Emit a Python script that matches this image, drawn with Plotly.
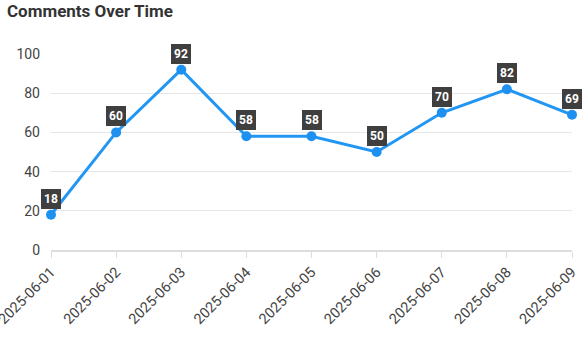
import plotly.graph_objects as go

dates = ["2025-06-01", "2025-06-02", "2025-06-03", "2025-06-04", "2025-06-05",
         "2025-06-06", "2025-06-07", "2025-06-08", "2025-06-09"]
comments = [18, 60, 92, 58, 58, 50, 70, 82, 69]
y_ticks = [0, 20, 40, 60, 80, 100]

fig = go.Figure()
fig.add_trace(go.Scatter(
    x=dates, y=comments, mode="lines+markers",
    line=dict(color="#2196F3", width=3),
    marker=dict(color="#1E90F0", size=10),
    cliponaxis=False, hoverinfo="skip",
))

# value badges above each point
for d, v in zip(dates, comments):
    fig.add_annotation(
        x=d, y=v, text=f"<b>{v}</b>", showarrow=False,
        yshift=16, font=dict(family="Roboto", size=12, color="white"),
        bgcolor="#3f3f3f", borderpad=2, bordercolor="#3f3f3f", borderwidth=1,
    )

fig.update_layout(
    width=582, height=350,
    margin=dict(l=51, r=10, t=54, b=100),
    plot_bgcolor="white", paper_bgcolor="white",
    showlegend=False,
    font=dict(family="Roboto", color="#444"),
    title=dict(text="<b>Comments Over Time</b>", x=0.012, xanchor="left",
               y=0.985, yanchor="top",
               font=dict(family="Roboto", size=17, color="#333")),
)
fig.update_xaxes(
    type="category", range=[0, len(dates) - 1], automargin=False,
    tickangle=-45, tickfont=dict(size=14.5, color="#444"),
    showgrid=False, showline=True, linecolor="#ddd", linewidth=2,
    ticks="outside", ticklen=6, tickcolor="#ddd",
)
fig.update_yaxes(
    range=[0, 100], tickvals=y_ticks, automargin=False,
    tickfont=dict(size=14, color="#444"),
    showgrid=True, gridcolor="#e6e6e6", gridwidth=1,
    zeroline=False, showline=False, ticks="", ticklabelstandoff=10,
)

fig.write_html("out.html")
